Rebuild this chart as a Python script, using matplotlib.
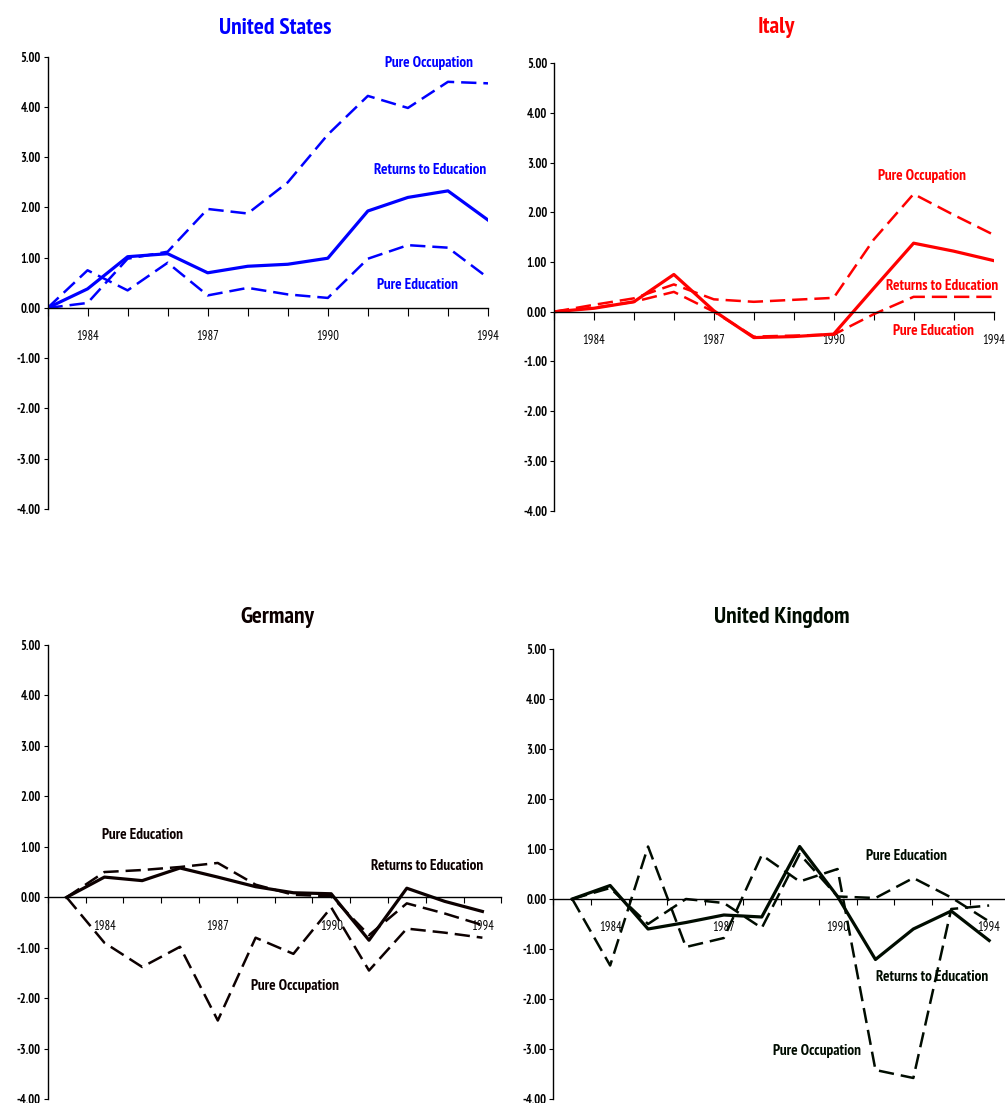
import matplotlib
matplotlib.use("Agg")
import matplotlib.pyplot as plt

plt.rcParams['font.family'] = ['PT Sans Narrow', 'DejaVu Sans']
plt.rcParams['lines.scale_dashes'] = False

years = list(range(1983, 1995))
labelled_years = [1984, 1987, 1990, 1994]

# United States
us_returns = [0, 0.38, 1.02, 1.08, 0.70, 0.83, 0.87, 0.99, 1.93, 2.20, 2.33, 1.75]
us_occupation = [0, 0.10, 0.98, 1.12, 1.97, 1.88, 2.50, 3.45, 4.22, 3.98, 4.50, 4.47]
us_education = [0, 0.75, 0.35, 0.90, 0.25, 0.40, 0.27, 0.20, 0.98, 1.25, 1.20, 0.60]

# Italy
it_returns = [0, 0.07, 0.20, 0.75, 0.02, -0.52, -0.50, -0.45, 0.47, 1.38, 1.22, 1.03]
it_occupation = [0, 0.14, 0.27, 0.55, 0.25, 0.20, 0.24, 0.28, 1.45, 2.37, 1.95, 1.55]
it_education = [0, 0.08, 0.20, 0.40, 0.00, -0.50, -0.48, -0.46, -0.05, 0.30, 0.30, 0.30]

# Germany
de_returns = [0, 0.40, 0.33, 0.58, 0.40, 0.21, 0.09, 0.07, -0.85, 0.18, -0.08, -0.28]
de_occupation = [0, -0.90, -1.38, -0.98, -2.44, -0.80, -1.12, -0.20, -1.45, -0.62, -0.70, -0.80]
de_education = [0, 0.50, 0.54, 0.60, 0.68, 0.25, 0.05, 0.02, -0.75, -0.12, -0.32, -0.55]

# United Kingdom
uk_returns = [0, 0.27, -0.60, -0.47, -0.32, -0.36, 1.05, 0.05, -1.21, -0.60, -0.24, -0.83]
uk_occupation = [0, -1.33, 1.05, -0.96, -0.78, 0.88, 0.35, 0.60, -3.42, -3.58, -0.20, -0.13]
uk_education = [0, 0.22, -0.50, 0.00, -0.08, -0.58, 0.90, 0.05, 0.02, 0.42, 0.03, -0.45]

W, H = 1005, 1103
fig = plt.figure(figsize=(W / 100, H / 100), dpi=100)


def px_axes(x0, x1, y_top, y_bot):
    return fig.add_axes([x0 / W, 1 - y_bot / H, (x1 - x0) / W, (y_bot - y_top) / H])


panels = [
    dict(title="United States", color="#0000FF", box=(47.5, 488, 56.7, 509),
         title_xy=(275, 28), between=False,
         data=(us_returns, us_occupation, us_education),
         labels={"Pure Occupation": (1992.53, 4.88),
                 "Returns to Education": (1992.55, 2.75),
                 "Pure Education": (1992.25, 0.46)}),
    dict(title="Italy", color="#FF0000", box=(554, 993.5, 63.3, 510.5),
         title_xy=(776, 27), between=False,
         data=(it_returns, it_occupation, it_education),
         labels={"Pure Occupation": (1992.21, 2.73),
                 "Returns to Education": (1992.71, 0.52),
                 "Pure Education": (1992.51, -0.39)}),
    dict(title="Germany", color="#0c0000", box=(47.7, 501.3, 644.8, 1099.3),
         title_xy=(277, 617), between=True,
         data=(de_returns, de_occupation, de_education),
         labels={"Pure Education": (1985.0, 1.23),
                 "Returns to Education": (1992.53, 0.62),
                 "Pure Occupation": (1989.04, -1.76)}),
    dict(title="United Kingdom", color="#000c00", box=(553.3, 1008.1, 649, 1099),
         title_xy=(782, 617), between=True,
         data=(uk_returns, uk_occupation, uk_education),
         labels={"Pure Education": (1991.83, 0.86),
                 "Returns to Education": (1992.49, -1.56),
                 "Pure Occupation": (1989.46, -3.04)}),
]

yvals = [5, 4, 3, 2, 1, 0, -1, -2, -3, -4]

for p in panels:
    ax = px_axes(*p["box"])
    col = p["color"]
    ret, occ, edu = p["data"]
    ax.plot(years, ret, color=col, lw=2.3, solid_joinstyle="round")
    ax.plot(years, occ, color=col, lw=1.8, dashes=(11, 5))
    ax.plot(years, edu, color=col, lw=1.8, dashes=(11, 5))

    ax.set_ylim(-4, 5)
    ax.set_yticks(yvals)
    ax.set_yticklabels(["%.2f" % v for v in yvals], fontweight="bold")
    ax.tick_params(axis="y", direction="out", length=3, width=0.8, pad=2,
                   labelsize=9, colors="black")

    if p["between"]:
        ax.set_xlim(years[0] - 0.5, years[-1] + 0.5)
        ax.set_xticks([y - 0.5 for y in years] + [years[-1] + 0.5])
        ax.set_xticklabels([])
        ax.set_xticks(labelled_years, minor=True)
        ax.set_xticklabels([str(y) for y in labelled_years], minor=True, fontweight="bold")
        ax.tick_params(axis="x", which="major", direction="out", length=4.5, width=0.8)
        ax.tick_params(axis="x", which="minor", length=0, pad=16, labelsize=9)
    else:
        ax.set_xlim(years[0], years[-1])
        ax.set_xticks(years)
        ax.set_xticklabels([str(y) if y in labelled_years else "" for y in years],
                           fontweight="bold")
        ax.tick_params(axis="x", which="major", direction="out", length=6, width=0.8,
                       pad=10, labelsize=9)

    ax.spines["bottom"].set_position(("data", 0))
    ax.spines["top"].set_visible(False)
    ax.spines["right"].set_visible(False)
    for s in ("left", "bottom"):
        ax.spines[s].set_linewidth(1.0)
        ax.spines[s].set_color("black")
    ax.patch.set_alpha(0)

    for txt, (lx, ly) in p["labels"].items():
        ax.text(lx, ly, txt, color=col, fontsize=11, fontweight="bold",
                ha="center", va="center")

    tx, ty = p["title_xy"]
    fig.text(tx / W, 1 - ty / H, p["title"], color=col, fontsize=17,
             fontweight="bold", ha="center", va="center")

fig.savefig("out.png", dpi=100)
